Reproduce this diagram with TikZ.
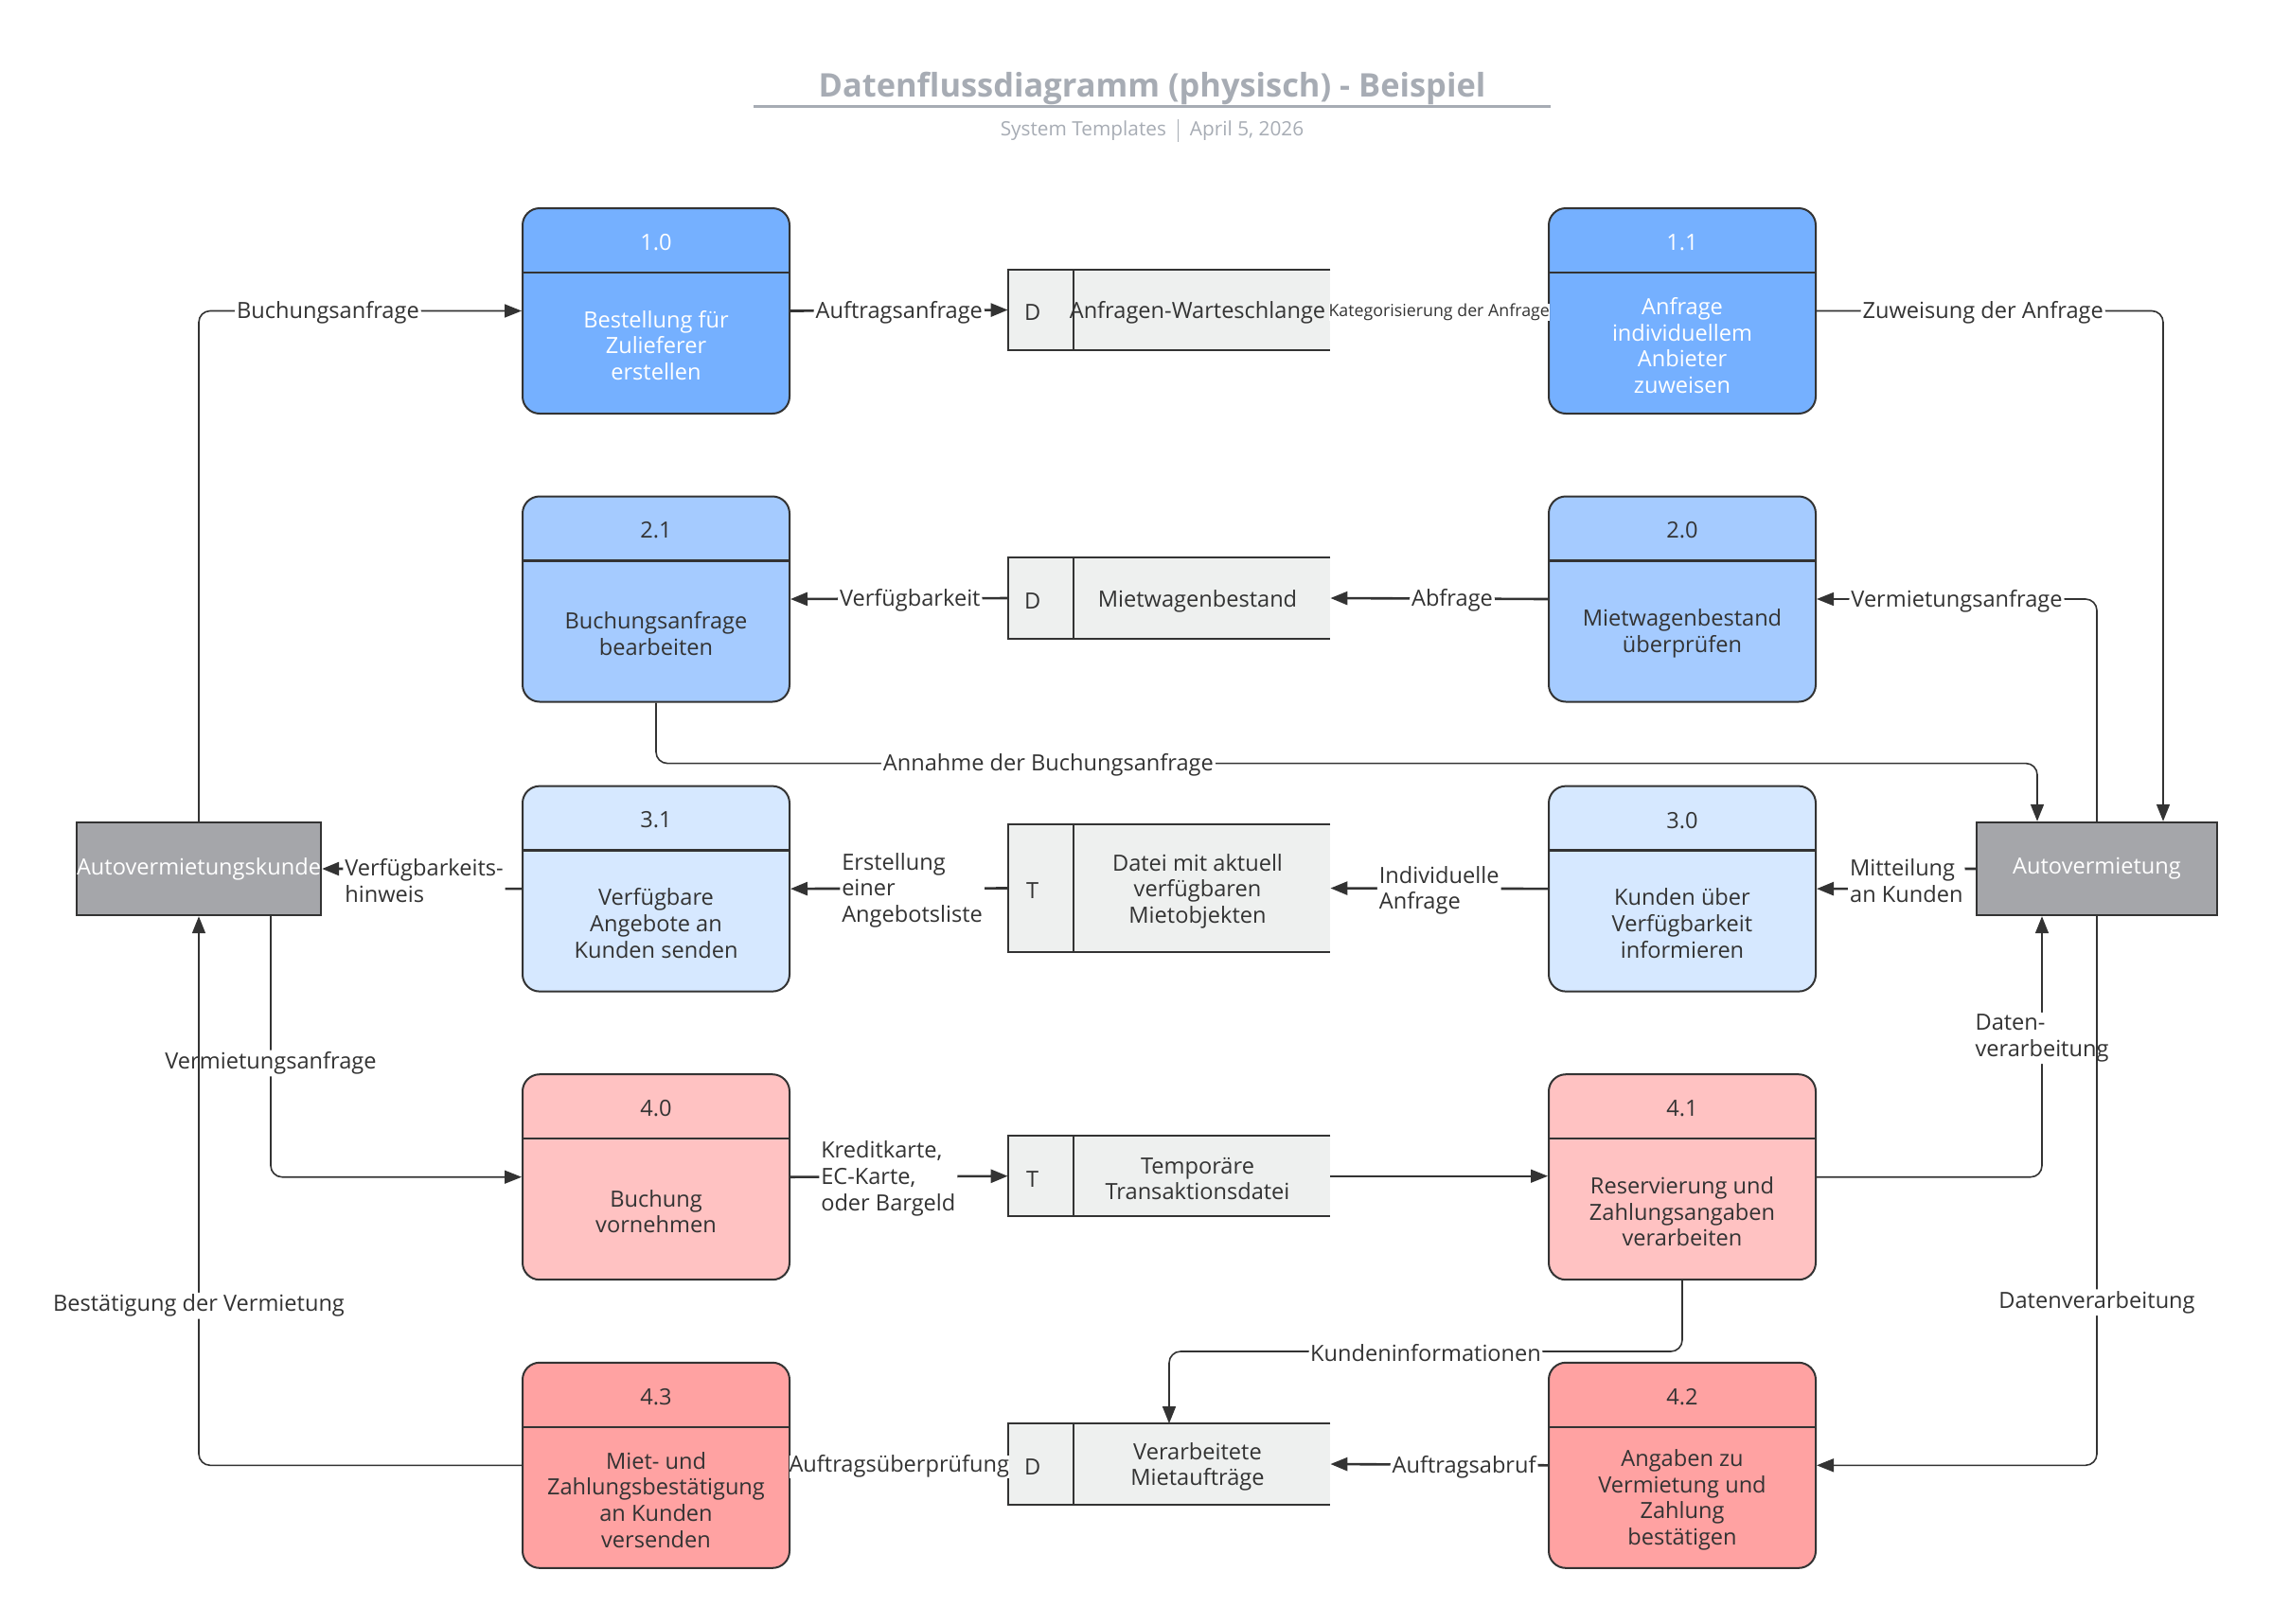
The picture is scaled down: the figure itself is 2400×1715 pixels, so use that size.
\documentclass[tikz,border=0pt]{standalone}
\usepackage{fontspec}
\setmainfont{Open Sans}
\usetikzlibrary{arrows.meta,calc}
\definecolor{ink}{HTML}{333333}
\definecolor{pA}{HTML}{75B0FF}
\definecolor{pB}{HTML}{A5CBFF}
\definecolor{pC}{HTML}{D6E8FF}
\definecolor{pD}{HTML}{FFC2C2}
\definecolor{pE}{HTML}{FFA2A2}
\definecolor{storefill}{HTML}{EEF0EF}
\definecolor{entfill}{HTML}{A5A6AA}
\definecolor{titlegray}{HTML}{A7ACB4}
\newcommand\procfont{\fontsize{11.8}{13.8}\selectfont}
\newcommand\labfont{\fontsize{11.8}{13.8}\selectfont}
\newcommand\tinyfont{\fontsize{8.9}{10.5}\selectfont}
% name, x, ytop, fill, textcolor, number, body
\newcommand\proc[7]{%
  \node[proc,fill=#4,anchor=north] (#1) at (#2,#3) {};
  \draw[ink,line width=1.2pt] ([yshift=-34.5pt]#1.north west) -- ([yshift=-34.5pt]#1.north east);
  \node[text=#5,font=\procfont,inner sep=0pt] at ([yshift=-18.5pt]#1.north) {#6};
  \node[text=#5,font=\procfont,align=center,inner sep=0pt] at ([yshift=-73pt]#1.north) {#7};
}
% name, ycenter, height, letter, text
\newcommand\store[5]{%
  \node[storebg,minimum height=#3] (#1) at (1235,#2) {};
  \draw[ink,line width=1pt] (#1.north east) -- (#1.north west) -- (#1.south west) -- (#1.south east);
  \draw[ink,line width=1pt] ([xshift=34.5pt]#1.north west) -- ([xshift=34.5pt]#1.south west);
  \node[text=ink,font=\procfont,inner sep=0pt] at ([xshift=13pt,yshift=-1.5pt]#1.west) {#4};
  \node[text=ink,font=\procfont,align=center,inner sep=0pt] at ([xshift=15pt,yshift=-1.5pt]#1.center) {#5};
}
\begin{document}
\begin{tikzpicture}[x=0.5pt,y=-0.5pt,
 proc/.style={draw=ink,line width=1pt,rounded corners=9pt,minimum width=141pt,minimum height=108.5pt,inner sep=0pt},
 ent/.style={draw=ink,line width=1.2pt,fill=entfill,minimum width=127pt,minimum height=49pt,inner sep=0pt,text=white,font=\procfont},
 storebg/.style={fill=storefill,minimum width=170pt,inner sep=0pt},
 flow/.style={draw=ink,line width=0.8pt,rounded corners=6pt,-{Triangle[length=9pt,width=7pt]}},
 flowthick/.style={flow,line width=1.3pt},
 plain/.style={draw=ink,line width=0.8pt},
 lbl/.style={fill=white,inner sep=1pt,text=ink,font=\labfont,align=left,yshift=-1pt},
]
\useasboundingbox (0,0) rectangle (2400,1715);

% title
\node[font=\bfseries\fontsize{17.2}{20}\selectfont,text=titlegray] (title) at (1217,93) {Datenflussdiagramm (physisch) - Beispiel};
\draw[titlegray,line width=1.5pt] (796,112) -- (1638,112);
\node[font=\fontsize{10.4}{12}\selectfont,text=titlegray] (sub) at (1217,137.5) {System Templates\hspace{6pt}\rule[-3pt]{0.5pt}{12pt}\hspace{6pt}April 5, 2026};

% processes
\proc{p10}{693}{219}{pA}{white}{1.0}{Bestellung für\\Zulieferer\\erstellen}
\proc{p11}{1777}{219}{pA}{white}{1.1}{Anfrage\\individuellem\\Anbieter\\zuweisen}
\proc{p21}{693}{523.5}{pB}{ink}{2.1}{Buchungsanfrage\\bearbeiten}
\proc{p20}{1777}{523.5}{pB}{ink}{2.0}{Mietwagenbestand\\überprüfen}
\proc{p31}{693}{829.6}{pC}{ink}{3.1}{Verfügbare\\Angebote an\\Kunden senden}
\proc{p30}{1777}{829.6}{pC}{ink}{3.0}{Kunden über\\Verfügbarkeit\\informieren}
\proc{p40}{693}{1134.2}{pD}{ink}{4.0}{Buchung\\vornehmen}
\proc{p41}{1777}{1134.2}{pD}{ink}{4.1}{Reservierung und\\Zahlungsangaben\\verarbeiten}
\proc{p43}{693}{1438.8}{pE}{ink}{4.3}{Miet- und\\Zahlungsbestätigung\\an Kunden\\versenden}
\proc{p42}{1777}{1438.8}{pE}{ink}{4.2}{Angaben zu\\Vermietung und\\Zahlung\\bestätigen}

% stores
\store{s1}{327.5}{42.5pt}{D}{Anfragen-Warteschlange}
\store{s2}{632}{43pt}{D}{Mietwagenbestand}
\store{s3}{938.5}{67.5pt}{T}{Datei mit aktuell\\verfügbaren\\Mietobjekten}
\store{s4}{1242.7}{42pt}{T}{Temporäre\\Transaktionsdatei}
\store{s5}{1547}{42.5pt}{D}{Verarbeitete\\Mietaufträge}

% entities
\node[ent] (kunde) at (210,918) {Autovermietungskunde};
\node[ent] (verm) at (2215,918) {Autovermietung};

% flows
\draw[flow] (kunde.north) |- node[lbl,pos=0.7]{Buchungsanfrage} (p10.west);
\draw[flowthick] (p10.east) -- node[lbl]{Auftragsanfrage} (s1.west);
\draw[plain] (s1.east) -- node[lbl,font=\tinyfont,inner sep=0pt]{Kategorisierung der Anfrage} (p11.west);
\draw[flow] (p11.east) -| node[lbl,pos=0.24]{Zuweisung der Anfrage} ([xshift=35pt]verm.north);
\draw[flow] (verm.north) |- node[lbl,pos=0.75]{Vermietungsanfrage} (p20.east);
\draw[flowthick] (p20.west) -- node[lbl,pos=0.44]{Abfrage} (s2.east);
\draw[flowthick] (s2.west) -- node[lbl,pos=0.45]{Verfügbarkeit} (p21.east);
\coordinate (annY) at (0,806.6);
\draw[flow] (p21.south) -- (p21.south |- annY) -| node[lbl,pos=0.142]{Annahme der Buchungsanfrage} ([xshift=-31.5pt]verm.north);
\draw[flowthick] (verm.west) -- ++(-73,0) |- node[lbl,pos=0.25]{Mitteilung\\an Kunden} (p30.east);
\draw[flowthick] (p30.west) -- node[lbl]{Individuelle\\Anfrage} (s3.east);
\draw[flowthick] (s3.west) -- node[lbl,pos=0.44]{Erstellung\\einer\\Angebotsliste} (p31.east);
\draw[flowthick] (p31.west) -- ++(-103,0) |- node[lbl,pos=0.25]{Verfügbarkeits-\\hinweis} (kunde.east);
\draw[flow] ([xshift=38pt]kunde.south) |- node[lbl,pos=0.278]{Vermietungsanfrage} (p40.west);
\draw[flow] (p43.west) -| node[lbl,pos=0.647]{Bestätigung der Vermietung} (kunde.south);
\draw[flowthick] (p40.east) -- node[lbl,pos=0.45]{Kreditkarte,\\EC-Karte,\\oder Bargeld} (s4.west);
\draw[flow] (s4.east) -- (s4.east -| p41.west);
\draw[flow] (p41.east) -| node[lbl,pos=0.77]{Daten-\\verarbeitung} ([xshift=-29pt]verm.south);
\draw[flow] (verm.south) |- node[lbl,pos=0.35]{Datenverarbeitung} (p42.east);
\coordinate (kiY) at (0,1428);
\draw[flow] (p41.south) -- (p41.south |- kiY) -| node[lbl,pos=0.25]{Kundeninformationen} (s5.north);
\draw[flowthick] (p42.west) -- node[lbl,pos=0.385]{Auftragsabruf} (s5.east);
\draw[plain] (p43.east) -- node[lbl,inner sep=0pt]{Auftragsüberprüfung} (s5.west);
\end{tikzpicture}
\end{document}
